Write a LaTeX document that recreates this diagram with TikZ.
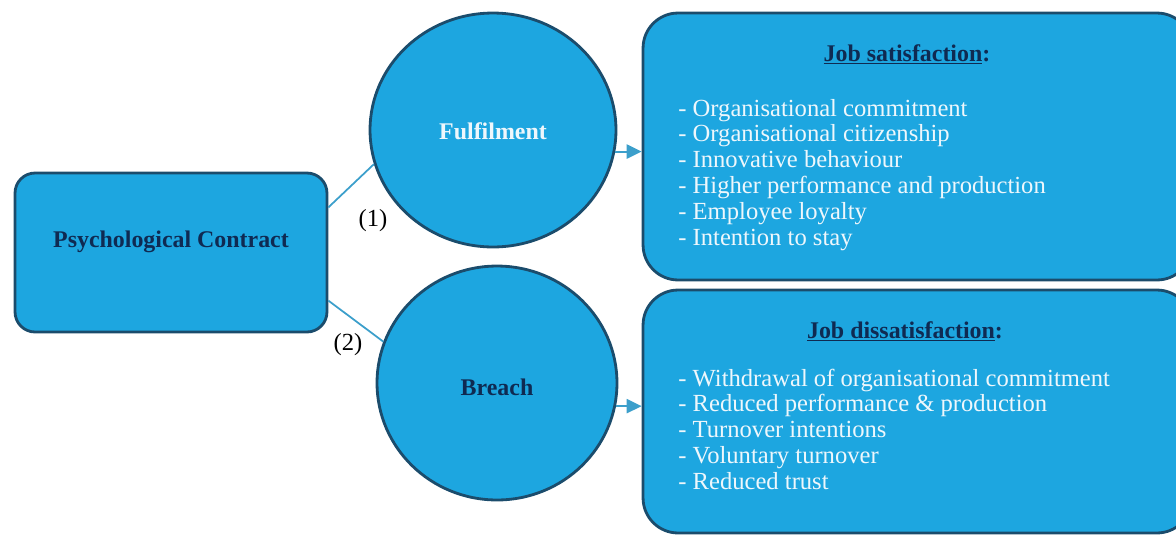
\documentclass[tikz,border=0pt]{standalone}
\usepackage{fontspec}
\setmainfont{Liberation Serif}
\usepackage{tikz}
\usetikzlibrary{shapes.geometric,arrows.meta}
\definecolor{boxfill}{HTML}{1DA6E0}
\definecolor{boxline}{HTML}{1B4C6C}
\definecolor{navytext}{HTML}{0F2A52}
\definecolor{paletext}{HTML}{EEF7FC}
\definecolor{linkline}{HTML}{3C9FCB}

\tikzset{
  rbox/.style={draw=boxline,fill=boxfill,line width=1.6pt,rectangle},
  bubble/.style={draw=boxline,fill=boxfill,line width=1.6pt,ellipse,inner sep=0pt},
  boldtxt/.style={font=\fontsize{13.6}{15}\selectfont\bfseries,inner sep=0pt,anchor=base},
  itemtxt/.style={font=\fontsize{14}{15}\selectfont,text=paletext,inner sep=0pt,anchor=base west},
  link/.style={draw=linkline,line width=1pt},
  push/.style={draw=linkline,line width=1.2pt,-{Triangle[length=8.5pt,width=8pt]}}
}

\begin{document}
\begin{tikzpicture}[x=0.02cm,y=-0.02cm]
  \useasboundingbox (0,0) rectangle (1176,535);

  % boxes and circles
  \node[rbox,rounded corners=0.4cm,minimum width=6.24cm,minimum height=3.18cm] (contract) at (171,252.5) {};
  \node[bubble,minimum width=4.92cm,minimum height=4.68cm] (fulfil) at (493,130) {};
  \node[bubble,minimum width=4.8cm,minimum height=4.68cm] (breach) at (497,383) {};
  \node[rbox,rounded corners=0.7cm,minimum width=10.98cm,minimum height=5.34cm] (satbox) at (917.5,146.5) {};
  \node[rbox,rounded corners=0.7cm,minimum width=10.98cm,minimum height=4.86cm] (disbox) at (917.5,411.5) {};

  % box texts
  \node[boldtxt,text=navytext] (contracttxt) at (171,247) {Psychological Contract};
  \node[boldtxt,text=paletext] (fulfiltxt) at (493,139) {Fulfilment};
  \node[boldtxt,text=navytext] (breachtxt) at (497,395) {Breach};

  % links
  \draw[link] (contract.16) -- (fulfil.196);
  \draw[link] (contract.-17) -- (breach.160);
  \node[font=\fontsize{14}{15}\selectfont,inner sep=0pt,anchor=base] (one) at (373,226) {(1)};
  \node[font=\fontsize{14}{15}\selectfont,inner sep=0pt,anchor=base] (two) at (348,350) {(2)};

  \draw[push] (fulfil.-10) -- (fulfil.-10 -| satbox.west);
  \draw[push] (breach.-11) -- (breach.-11 -| disbox.west);

  % job satisfaction
  \node[boldtxt,text=navytext] (sattitle) at (907,61) {\underline{Job satisfaction}:};
  \foreach \t [count=\i from 0] in {Organisational commitment,Organisational citizenship,
      Innovative behaviour,Higher performance and production,Employee loyalty,Intention to stay}
    \node[itemtxt] (sat\i) at (678,116+25.8*\i) {- \t};

  % job dissatisfaction
  \node[boldtxt,text=navytext] (distitle) at (905,338) {\underline{Job dissatisfaction}:};
  \foreach \t [count=\i from 0] in {Withdrawal of organisational commitment,
      Reduced performance \& production,Turnover intentions,Voluntary turnover,Reduced trust}
    \node[itemtxt] (dis\i) at (678,386+25.75*\i) {- \t};
\end{tikzpicture}
\end{document}
